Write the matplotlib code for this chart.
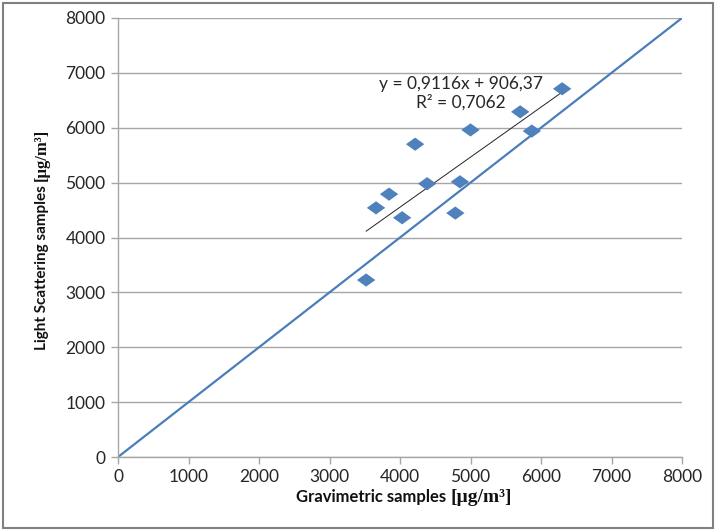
import matplotlib
matplotlib.use("Agg")
import matplotlib.pyplot as plt
import numpy as np
from matplotlib.patches import Rectangle
from matplotlib.path import Path

gravimetric = [3520, 3660, 3845, 4030, 4215, 4385, 4785, 4850, 5000, 5705, 5870, 6300]
light_scatter = [3225, 4540, 4790, 4360, 5700, 4980, 4445, 5015, 5960, 6290, 5940, 6710]
slope = 0.9116
intercept = 906.37
eq_text = "y = 0,9116x + 906,37"
r2_text = "R² = 0,7062"
ticks = [0, 1000, 2000, 3000, 4000, 5000, 6000, 7000, 8000]

fig = plt.figure(figsize=(7.16, 5.30), dpi=100)
ax = fig.add_axes([118/716, 1-457/530, (682-118)/716, (457-18)/530])

fnt = "Lato"
grid_c = "#A6A6A6"
txt_c = "#262626"

diamond = Path([(-1, 0), (0, 0.72), (1, 0), (0, -0.72), (-1, 0)],
               [Path.MOVETO, Path.LINETO, Path.LINETO, Path.LINETO, Path.CLOSEPOLY])

# 1:1 line
ax.plot([0, 8000], [0, 8000], color="#4A7EBB", lw=1.6, zorder=2)
# trend line
xs = np.array([min(gravimetric), max(gravimetric)])
ax.plot(xs, slope*xs + intercept, color="#222222", lw=0.7, zorder=3)
# points
ax.scatter(gravimetric, light_scatter, marker=diamond, s=175, color="#4F81BD",
           edgecolors="none", zorder=4)

ax.set_xlim(0, 8000)
ax.set_ylim(0, 8000)
ax.set_xticks(ticks)
ax.set_yticks(ticks)
ax.set_xticklabels([str(t) for t in ticks], fontfamily=fnt, fontsize=12.5, color=txt_c)
ax.set_yticklabels([str(t) for t in ticks], fontfamily=fnt, fontsize=12.5, color=txt_c)
ax.tick_params(direction="out", length=5, color=grid_c, width=1, pad=4)
ax.yaxis.grid(True, color=grid_c, lw=1)
ax.set_axisbelow(True)
for s in ["top", "right"]:
    ax.spines[s].set_visible(False)
for s in ["left", "bottom"]:
    ax.spines[s].set_color(grid_c)
    ax.spines[s].set_linewidth(1)

ax.text(4860, 6800, eq_text, ha="center", va="center", fontfamily=fnt, fontsize=12.5, color=txt_c)
ax.text(4860, 6460, r2_text, ha="center", va="center", fontfamily=fnt, fontsize=12.5, color=txt_c)

# outer border
fig.patches.append(Rectangle((0.004, 0.004), 0.992, 0.99, transform=fig.transFigure,
                             fill=False, edgecolor="#808080", lw=1.5))

# axis labels composed of two fonts
fig.canvas.draw()
r = fig.canvas.get_renderer()
t1 = fig.text(296/716, 1-497/530, "Gravimetric samples", fontfamily=fnt, fontweight="bold",
              fontsize=12, ha="left", va="center", color="#111111")
fig.canvas.draw()
bb = t1.get_window_extent(r)
fig.text((bb.x1 + 4)/716, 1-497/530, "[µg/m³]", fontfamily="Liberation Serif", fontweight="bold",
         fontsize=14, ha="left", va="center", color="#111111")

t2 = fig.text(42/716, 1-350/530, "Light Scattering samples", fontfamily=fnt, fontweight="bold",
              fontsize=11, ha="center", va="bottom", rotation=90, color="#111111")
fig.canvas.draw()
bb2 = t2.get_window_extent(r)
fig.text(42/716, (bb2.y1 + 4)/530, "[µg/m³]", fontfamily="Liberation Serif", fontweight="bold",
         fontsize=12, ha="center", va="bottom", rotation=90, color="#111111")

fig.savefig("out.png", dpi=100)
